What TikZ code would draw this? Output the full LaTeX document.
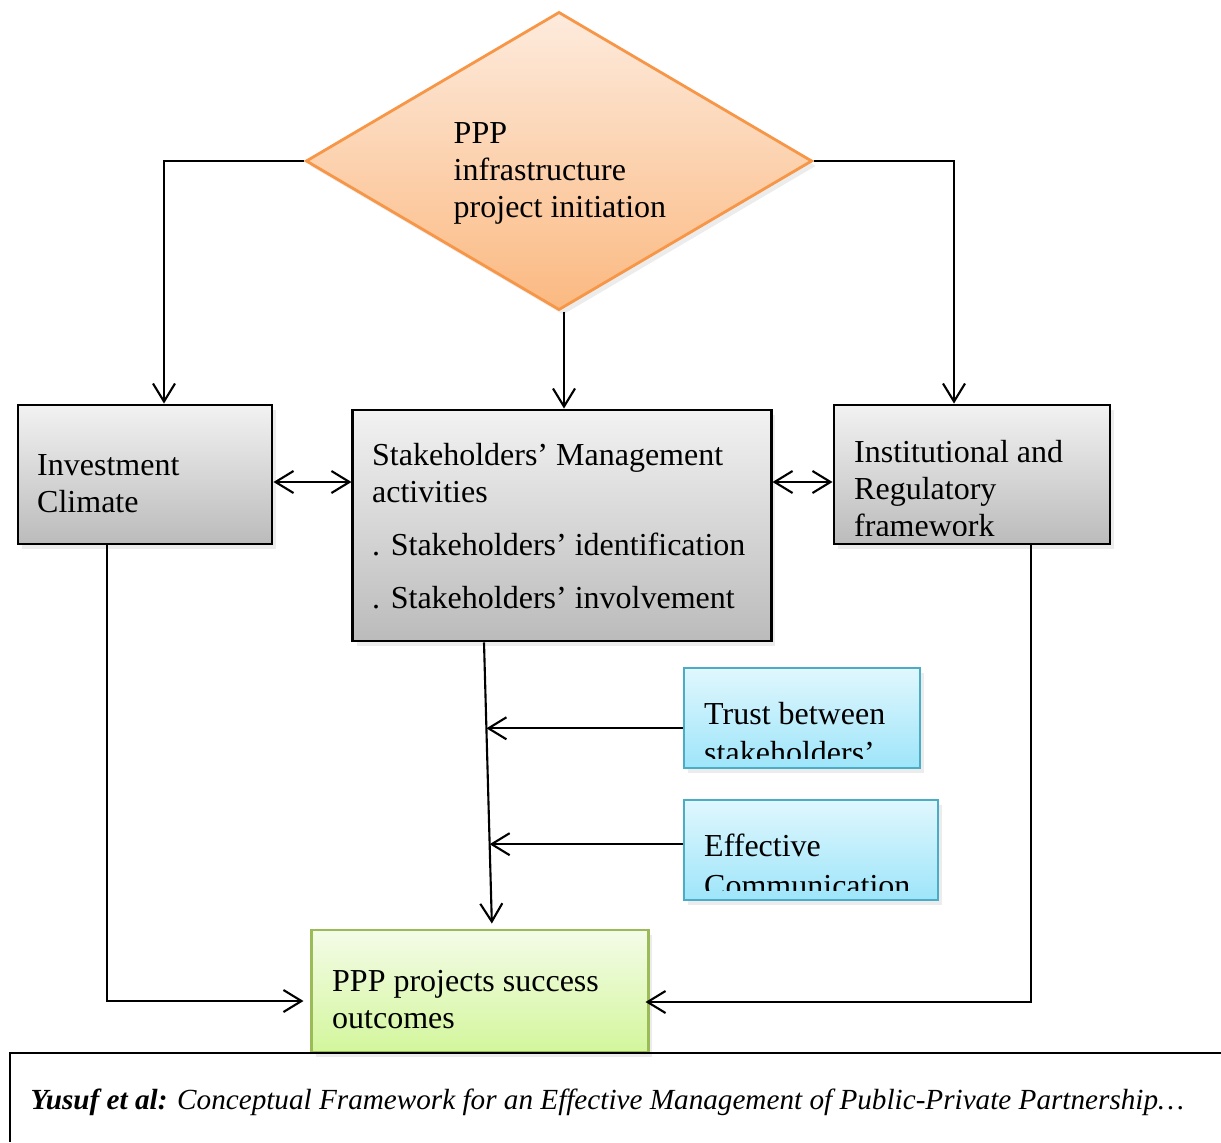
\documentclass[tikz,border=0pt]{standalone}
\usepackage{fontspec}
\setmainfont{Liberation Serif}
\usepackage{tikz}
\usetikzlibrary{shapes.geometric, arrows.meta, calc, shadows}
\definecolor{PIborder}{HTML}{F79646}
\definecolor{PItop}{HTML}{FDEBDD}
\definecolor{PIbottom}{HTML}{FBB981}
\definecolor{GRtop}{HTML}{F2F2F2}
\definecolor{GRbottom}{HTML}{BBBBBB}
\definecolor{CYborder}{HTML}{4BACC6}
\definecolor{CYtop}{HTML}{E0F7FD}
\definecolor{CYbottom}{HTML}{9EE5FA}
\definecolor{GNborder}{HTML}{9BBB59}
\definecolor{GNtop}{HTML}{F4FCE8}
\definecolor{GNbottom}{HTML}{D3F69C}

\tikzset{
    softshadow/.style={drop shadow={shadow xshift=0.4mm, shadow yshift=-0.5mm, opacity=0.15}},
    box/.style={draw, rectangle, inner sep=0pt, softshadow},
    graybox/.style={box, line width=0.8pt, top color=GRtop, bottom color=GRbottom},
    cyanbox/.style={box, draw=CYborder, line width=0.8pt, top color=CYtop, bottom color=CYbottom},
    greenbox/.style={box, draw=GNborder, line width=0.8pt, top color=GNtop, bottom color=GNbottom},
    boxtext/.style={anchor=base west, align=left, inner sep=0pt, font=\fontsize{9.1}{10.5}\selectfont},
    link/.style={line width=0.6pt},
}

\begin{document}
\begin{tikzpicture}[x=0.01cm, y=-0.01cm, >={Straight Barb[length=1.8mm, width=2.2mm]}]
    \useasboundingbox (0, 0) rectangle (1221, 1142);

    % initiation (text nodes sit on their last baseline)
    \node [diamond, draw=PIborder, line width=0.8pt, top color=PItop, bottom color=PIbottom,
        inner sep=0pt, minimum width=5.06cm, minimum height=2.98cm, softshadow] (pi) at (559, 161) {};
    \node [boxtext] (pi-txt) at (453, 217) {PPP\\infrastructure\\project initiation};

    % middle row
    \node [graybox, minimum width=2.54cm, minimum height=1.39cm] (ic) at (145, 474.5) {};
    \node [boxtext] (ic-txt) at ($(ic.north west)+(20, 109)$) {Investment\\Climate};

    \node [graybox, minimum width=4.18cm, minimum height=2.31cm] (sm) at (562, 525.5) {};
    \node [boxtext] (sm-txt) at ($(sm.north west)+(20, 200)$)
        {Stakeholders’ Management\\activities\\[1.6mm]. Stakeholders’ identification\\[1.6mm]. Stakeholders’ involvement};

    \node [graybox, minimum width=2.76cm, minimum height=1.39cm] (irf) at (972, 474.5) {};
    \begin{scope}
        \clip (irf.north west) rectangle ($(irf.south east)+(0, -10)$);
        \node [boxtext] (irf-txt) at ($(irf.north west)+(21, 133)$) {Institutional and\\Regulatory\\framework};
    \end{scope}

    % moderators
    \node [cyanbox, minimum width=2.36cm, minimum height=1.00cm] (tb) at (802, 718) {};
    \begin{scope}
        \clip (tb.north west) rectangle ($(tb.south east)+(0, -11)$);
        \node [boxtext] (tb-txt) at ($(tb.north west)+(21, 97)$) {Trust between\\[0.25mm]stakeholders’};
    \end{scope}

    \node [cyanbox, minimum width=2.54cm, minimum height=1.00cm] (ec) at (811, 850) {};
    \begin{scope}
        \clip (ec.north west) rectangle ($(ec.south east)+(0, -11)$);
        \node [boxtext] (ec-txt) at ($(ec.north west)+(21, 98)$) {Effective\\[0.3mm]Communication};
    \end{scope}

    % outcome
    \node [greenbox, minimum width=3.36cm, minimum height=1.22cm] (ps) at (480, 991) {};
    \node [boxtext] (ps-txt) at ($(ps.north west)+(21, 100)$) {PPP projects success\\outcomes};

    % links from initiation
    \coordinate (ic-in) at ($(ic.north)+(19, 0)$);
    \coordinate (sm-in) at ($(sm.north)+(2, 0)$);
    \coordinate (irf-in) at ($(irf.north)+(-18, 0)$);
    \draw [link, ->] (pi.west) -| (ic-in);
    \draw [link, ->] (sm-in |- pi.south) -- (sm-in);
    \draw [link, ->] (pi.east) -| (irf-in);

    \coordinate (ic-out) at ($(ic.east)+(0, 7.5)$);
    \coordinate (irf-out) at ($(irf.west)+(0, 7.5)$);
    \draw [link, <->] (ic-out) -- (ic-out -| sm.west);
    \draw [link, <->] (irf-out -| sm.east) -- (irf-out);

    % main line to outcome
    \coordinate (sm-out) at ($(sm.south)+(-78, 0)$);
    \coordinate (ps-in) at ($(ps.north)+(12, 0)$);
    \draw [link, ->, shorten >=0.5mm] (sm-out) -- (ps-in);
    \coordinate (j1) at ($(sm-out)!0.3!(ps-in)$);
    \coordinate (j2) at ($(sm-out)!0.705!(ps-in)$);
    \draw [link, ->] (j1 -| tb.west) -- (j1);
    \draw [link, ->] (j2 -| ec.west) -- (j2);

    % side returns
    \coordinate (ic-down) at ($(ic.south)+(-38, 0)$);
    \coordinate (ps-left) at ($(ps.west)+(0, 10)$);
    \draw [link, ->, shorten >=0.7mm] (ic-down) -- (ic-down |- ps-left) -- (ps-left);
    \coordinate (irf-down) at ($(irf.south)+(59, 0)$);
    \coordinate (ps-right) at ($(ps.east)+(-4, 11)$);
    \draw [link, ->] (irf-down) -- (irf-down |- ps-right) -- (ps-right);

    % caption frame
    \draw [line width=0.4pt] (1221, 1053) -- (10, 1053) -- (10, 1142);
    \node [anchor=base west, inner sep=0pt, font=\fontsize{8.3}{10}\selectfont] (cap) at (30, 1109)
        {\textbf{\textit{Yusuf et al:}} \textit{Conceptual Framework for an Effective Management of Public-Private Partnership…}};
\end{tikzpicture}
\end{document}
